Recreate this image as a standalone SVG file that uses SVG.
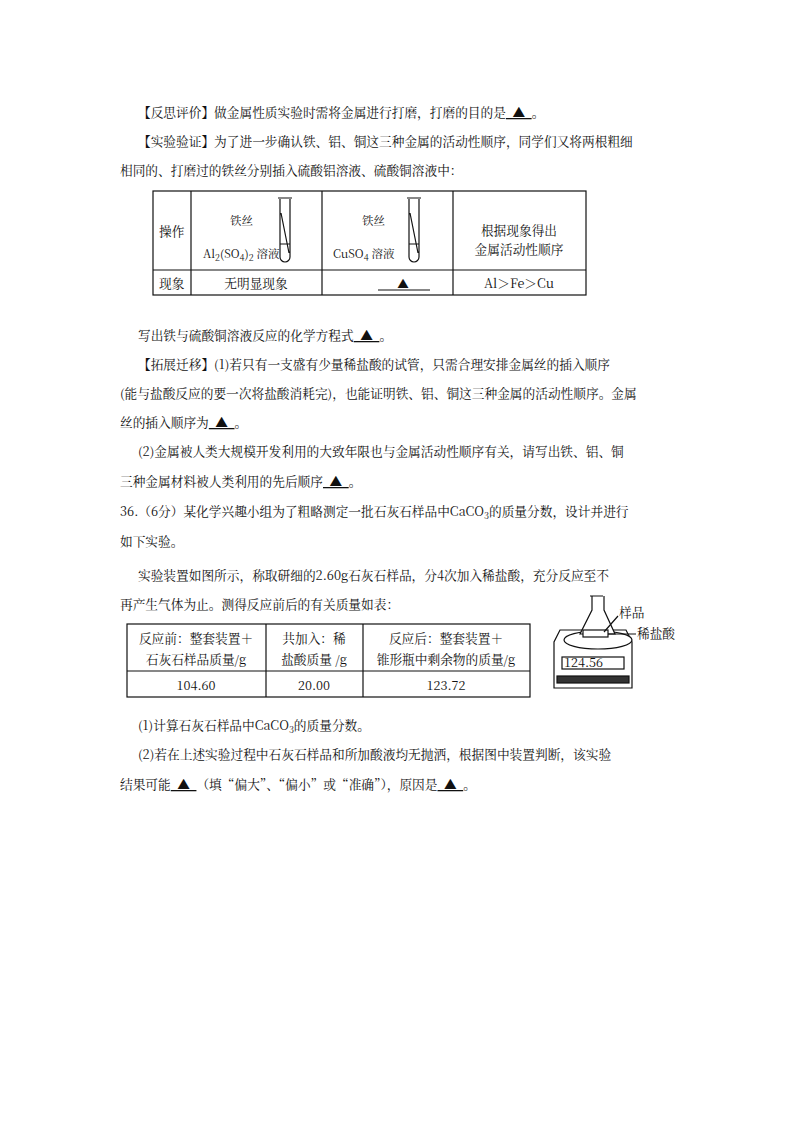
<svg xmlns="http://www.w3.org/2000/svg" width="800" height="1132" viewBox="0 0 800 1132">
<style>
text{font-family:"Noto Serif CJK SC","Noto Sans CJK SC",serif;font-size:12.7px;fill:#111}
.s{font-size:11.5px}
.l{stroke:#111;stroke-width:1.2;fill:none}
</style>
<rect width="800" height="1132" fill="#fff"/>
<text x="138" y="117">【反思评价】做金属性质实验时需将金属进行打磨，打磨的目的是<tspan text-decoration="underline">&#160;&#160;▲&#160;&#160;</tspan>。</text>
<text x="138" y="146">【实验验证】为了进一步确认铁、铝、铜这三种金属的活动性顺序，同学们又将两根粗细</text>
<text x="120" y="175">相同的、打磨过的铁丝分别插入硫酸铝溶液、硫酸铜溶液中：</text>
<g id="table1" class="l">
<rect x="153" y="191" width="433" height="104"/>
<line x1="153" y1="270" x2="586" y2="270"/>
<line x1="191" y1="191" x2="191" y2="295"/>
<line x1="322" y1="191" x2="322" y2="295"/>
<line x1="453" y1="191" x2="453" y2="295"/>
<path d="M280,199v58a5,5 0 0 0 10,0v-58M278,198h14M281,213l8,40M280,244h10"/>
<path d="M409,199v58a5,5 0 0 0 10,0v-58M407,198h14M410,213l8,40M409,244h10"/>
</g>
<text x="159" y="236">操作</text>
<text x="230" y="225" class="s">铁丝</text>
<text x="203" y="258" class="s">Al<tspan font-size="9" dy="3">2</tspan><tspan dy="-3">(SO</tspan><tspan font-size="9" dy="3">4</tspan><tspan dy="-3">)</tspan><tspan font-size="9" dy="3">2</tspan><tspan dy="-3"> 溶液</tspan></text>
<text x="362" y="225" class="s">铁丝</text>
<text x="333" y="258" class="s">CuSO<tspan font-size="9" dy="3">4</tspan><tspan dy="-3"> 溶液</tspan></text>
<text x="519" y="235" text-anchor="middle">根据现象得出</text>
<text x="519" y="254" text-anchor="middle">金属活动性顺序</text>
<text x="159" y="288">现象</text>
<text x="256" y="288" text-anchor="middle">无明显现象</text>
<text x="403" y="288" text-anchor="middle" class="s">▲</text>
<line x1="378" y1="290" x2="430" y2="290" class="l"/>
<text x="519" y="288" text-anchor="middle" font-family="Liberation Serif,serif">Al＞Fe＞Cu</text>
<text x="138" y="340">写出铁与硫酸铜溶液反应的化学方程式<tspan text-decoration="underline">&#160;&#160;▲&#160;&#160;</tspan>。</text>
<text x="138" y="369">【拓展迁移】(1)若只有一支盛有少量稀盐酸的试管，只需合理安排金属丝的插入顺序</text>
<text x="120" y="398">(能与盐酸反应的要一次将盐酸消耗完)，也能证明铁、铝、铜这三种金属的活动性顺序。金属</text>
<text x="120" y="427">丝的插入顺序为<tspan text-decoration="underline">&#160;&#160;▲&#160;&#160;</tspan>。</text>
<text x="138" y="456">(2)金属被人类大规模开发利用的大致年限也与金属活动性顺序有关，请写出铁、铝、铜</text>
<text x="120" y="486">三种金属材料被人类利用的先后顺序<tspan text-decoration="underline">&#160;&#160;▲&#160;&#160;</tspan>。</text>
<text x="120" y="516">36.（6分）某化学兴趣小组为了粗略测定一批石灰石样品中CaCO<tspan font-size="9" dy="3">3</tspan><tspan dy="-3">的质量分数，设计并进行</tspan></text>
<text x="120" y="546">如下实验。</text>
<text x="138" y="580">实验装置如图所示，称取研细的2.60g石灰石样品，分4次加入稀盐酸，充分反应至不</text>
<text x="120" y="609">再产生气体为止。测得反应前后的有关质量如表：</text>
<g id="table2" class="l">
<rect x="127" y="624" width="403" height="73"/>
<line x1="127" y1="671" x2="530" y2="671"/>
<line x1="266" y1="624" x2="266" y2="697"/>
<line x1="363" y1="624" x2="363" y2="697"/>
</g>
<text x="196" y="643" text-anchor="middle">反应前：整套装置＋</text>
<text x="196" y="664" text-anchor="middle">石灰石样品质量/g</text>
<text x="314" y="643" text-anchor="middle">共加入：稀</text>
<text x="314" y="664" text-anchor="middle">盐酸质量 /g</text>
<text x="446" y="643" text-anchor="middle">反应后：整套装置＋</text>
<text x="446" y="664" text-anchor="middle">锥形瓶中剩余物的质量/g</text>
<text x="196" y="690" text-anchor="middle">104.60</text>
<text x="314" y="690" text-anchor="middle">20.00</text>
<text x="446" y="690" text-anchor="middle">123.72</text>
<g id="apparatus" class="l">
<path d="M560,630h66l6,12v46h-78v-46z" fill="#fff"/>
<ellipse cx="598" cy="640" rx="34" ry="9" fill="#fff"/>
<path d="M590,596h13M592,596v14l-12,24h35l-11,-24v-14" fill="#fff"/>
<rect x="583" y="630" width="25" height="7" fill="#fff"/>
<rect x="562" y="657" width="62" height="12"/>
<rect x="557" y="676" width="72" height="7" fill="#333"/>
<path d="M604,632l14,-16M608,634h28"/>
</g>
<text x="564" y="667" font-size="10" font-family="DejaVu Sans Mono,monospace">124.56</text>
<text x="619" y="617" font-size="9">样品</text>
<text x="637" y="638" font-size="9">稀盐酸</text>
<text x="138" y="730">(1)计算石灰石样品中CaCO<tspan font-size="9" dy="3">3</tspan><tspan dy="-3">的质量分数。</tspan></text>
<text x="138" y="759">(2)若在上述实验过程中石灰石样品和所加酸液均无抛洒，根据图中装置判断，该实验</text>
<text x="120" y="789">结果可能<tspan text-decoration="underline">&#160;&#160;▲&#160;&#160;</tspan>（填“偏大”、“偏小”或“准确”），原因是<tspan text-decoration="underline">&#160;&#160;▲&#160;&#160;</tspan>。</text>
</svg>
